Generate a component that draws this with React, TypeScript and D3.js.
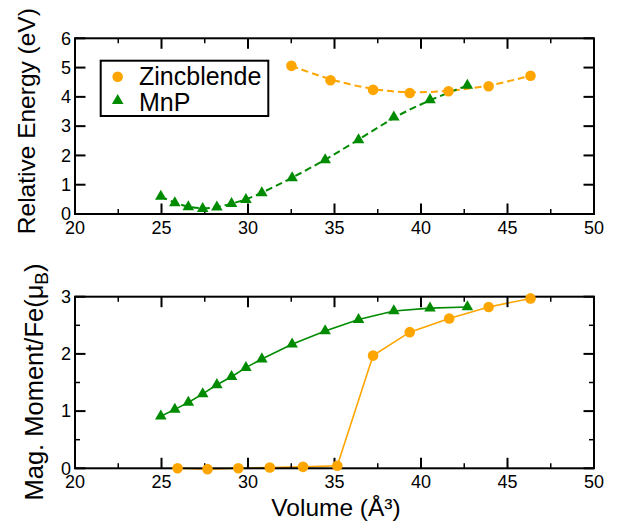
import React from 'react';
import * as d3 from 'd3';

// ---------- data ----------
const xTicks = [20, 25, 30, 35, 40, 45, 50];
const xMinorTicks = [22.5, 27.5, 32.5, 37.5, 42.5, 47.5];
const energyTicks = [0, 1, 2, 3, 4, 5, 6];
const momentTicks = [0, 1, 2, 3];
const momentMinorTicks = [0.5, 1.5, 2.5];

const seriesNames = ['Zincblende', 'MnP'];

const zbEnergyVol = [32.51, 34.77, 37.23, 39.35, 41.59, 43.91, 46.33];
const zbEnergy = [5.06, 4.57, 4.24, 4.13, 4.19, 4.36, 4.72];

const mnpVol = [24.96, 25.77, 26.55, 27.38, 28.2, 29.05, 29.88, 30.8, 32.55, 34.46, 36.39, 38.43, 40.52, 42.68];
const mnpEnergy = [0.6, 0.375, 0.24, 0.18, 0.23, 0.35, 0.49, 0.72, 1.23, 1.85, 2.53, 3.31, 3.9, 4.39];
const mnpMoment = [0.91, 1.03, 1.15, 1.3, 1.46, 1.6, 1.76, 1.91, 2.17, 2.4, 2.6, 2.75, 2.8, 2.82];

const zbMomentVol = [25.93, 27.66, 29.44, 31.26, 33.18, 35.16, 37.23, 39.35, 41.63, 43.91, 46.33];
const zbMoment = [0.0, -0.015, 0.0, 0.015, 0.025, 0.045, 1.97, 2.38, 2.62, 2.82, 2.97];

const ORANGE = '#FFA500';
const GREEN = '#008B00';
const FONT = '"Liberation Sans", Arial, Helvetica, sans-serif';

const W = 618;
const H = 525;

const x = d3.scaleLinear().domain([20, 50]).range([75, 594]);
const yTop = d3.scaleLinear().domain([0, 6]).range([214, 38.3]);
const yBot = d3.scaleLinear().domain([0, 3]).range([468.3, 296.7]);

const zip = (a: number[], b: number[]) => a.map((v, i) => [v, b[i]] as [number, number]);

const triPath = d3.symbol().type(d3.symbolTriangle).size(58)();

function Frame({ y, ticks, minor }: { y: d3.ScaleLinear<number, number>; ticks: number[]; minor: number[] }) {
  const [y0, y1] = y.range();
  const [x0, x1] = x.range();
  const MAJ = 10.5;
  const MIN = 5;
  return (
    <g stroke="#000" strokeWidth={2} fill="none">
      <rect x={x0} y={y1} width={x1 - x0} height={y0 - y1} />
      {xTicks.map((t) => (
        <g key={'xm' + t}>
          <line x1={x(t)} x2={x(t)} y1={y0} y2={y0 - MAJ} />
          <line x1={x(t)} x2={x(t)} y1={y1} y2={y1 + MAJ} />
        </g>
      ))}
      {xMinorTicks.map((t) => (
        <g key={'xn' + t} strokeWidth={1.5}>
          <line x1={x(t)} x2={x(t)} y1={y0} y2={y0 - MIN} />
          <line x1={x(t)} x2={x(t)} y1={y1} y2={y1 + MIN} />
        </g>
      ))}
      {ticks.map((t) => (
        <g key={'ym' + t}>
          <line x1={x0} x2={x0 + MAJ} y1={y(t)} y2={y(t)} />
          <line x1={x1} x2={x1 - MAJ} y1={y(t)} y2={y(t)} />
        </g>
      ))}
      {minor.map((t) => (
        <g key={'yn' + t} strokeWidth={1.5}>
          <line x1={x0} x2={x0 + MIN} y1={y(t)} y2={y(t)} />
          <line x1={x1} x2={x1 - MIN} y1={y(t)} y2={y(t)} />
        </g>
      ))}
    </g>
  );
}

function TickLabels({ y, ticks }: { y: d3.ScaleLinear<number, number>; ticks: number[] }) {
  const [y0] = y.range();
  return (
    <g fontFamily={FONT} fontSize={18} fill="#000">
      {ticks.map((t) => (
        <text key={'yl' + t} x={71} y={y(t)} dy="0.35em" textAnchor="end">
          {t}
        </text>
      ))}
      {xTicks.map((t) => (
        <text key={'xl' + t} x={x(t)} y={y0 + 19.5} textAnchor="middle">
          {t}
        </text>
      ))}
    </g>
  );
}

export default function App() {
  const lineTop = (y: d3.ScaleLinear<number, number>) =>
    d3
      .line<[number, number]>()
      .x((d) => x(d[0]))
      .y((d) => y(d[1]))
      .curve(d3.curveBasis);
  const lineBot = d3
    .line<[number, number]>()
    .x((d) => x(d[0]))
    .y((d) => yBot(d[1]));

  const zbE = zip(zbEnergyVol, zbEnergy);
  const mnpE = zip(mnpVol, mnpEnergy);
  const zbM = zip(zbMomentVol, zbMoment);
  const mnpM = zip(mnpVol, mnpMoment);

  return (
    <svg
      width={W}
      height={H}
      viewBox={`0 0 ${W} ${H}`}
      style={{ position: 'absolute', left: 0, top: 0, background: '#fff' }}
    >
      <rect x={0} y={0} width={W} height={H} fill="#fff" />

      {/* ---------- top panel ---------- */}
      <g fill="none" strokeWidth={2} strokeDasharray="7,4">
        <path d={lineTop(yTop)(zbE) || ''} stroke={ORANGE} />
        <path d={lineTop(yTop)(mnpE) || ''} stroke={GREEN} />
      </g>
      <Frame y={yTop} ticks={energyTicks} minor={[]} />
      <g>
        {zbE.map((d, i) => (
          <circle key={'zbe' + i} cx={x(d[0])} cy={yTop(d[1])} r={5.3} fill={ORANGE} />
        ))}
        {mnpE.map((d, i) => (
          <path key={'mne' + i} d={triPath || ''} transform={`translate(${x(d[0])},${yTop(d[1])})`} fill={GREEN} />
        ))}
      </g>
      <TickLabels y={yTop} ticks={energyTicks} />

      {/* legend */}
      <g>
        <rect x={100.7} y={60.7} width={167.6} height={55.3} fill="#fff" stroke="#000" strokeWidth={2} />
        <circle cx={117.7} cy={76.7} r={5.3} fill={ORANGE} />
        <path d={triPath || ''} transform="translate(117.7,100.7)" fill={GREEN} />
        <text x={139} y={85} fontFamily={FONT} fontSize={25} fill="#000">
          {seriesNames[0]}
        </text>
        <text x={139} y={110.5} fontFamily={FONT} fontSize={25} fill="#000">
          {seriesNames[1]}
        </text>
      </g>

      <text
        transform={`translate(35,${(yTop.range()[0] + yTop.range()[1]) / 2 - 5}) rotate(-90)`}
        textAnchor="middle"
        fontFamily={FONT}
        fontSize={24.5}
        fill="#000"
      >
        Relative Energy (eV)
      </text>

      {/* ---------- bottom panel ---------- */}
      <g fill="none" strokeWidth={1.6}>
        <path d={lineBot(zbM) || ''} stroke={ORANGE} />
        <path d={lineBot(mnpM) || ''} stroke={GREEN} />
      </g>
      <Frame y={yBot} ticks={momentTicks} minor={momentMinorTicks} />
      <g>
        {zbM.map((d, i) => (
          <circle key={'zbm' + i} cx={x(d[0])} cy={yBot(d[1])} r={5.3} fill={ORANGE} />
        ))}
        {mnpM.map((d, i) => (
          <path key={'mnm' + i} d={triPath || ''} transform={`translate(${x(d[0])},${yBot(d[1])})`} fill={GREEN} />
        ))}
      </g>
      <TickLabels y={yBot} ticks={momentTicks} />

      <text
        transform={`translate(43,382) rotate(-90)`}
        textAnchor="middle"
        fontFamily={FONT}
        fontSize={25.5}
        fill="#000"
      >
        Mag. Moment/Fe(μ
        <tspan fontSize={19} dy={5}>B</tspan>
        <tspan dy={-5}>)</tspan>
      </text>

      <text x={336} y={516} textAnchor="middle" fontFamily={FONT} fontSize={24.5} fill="#000">
        Volume (Å³)
      </text>
    </svg>
  );
}
